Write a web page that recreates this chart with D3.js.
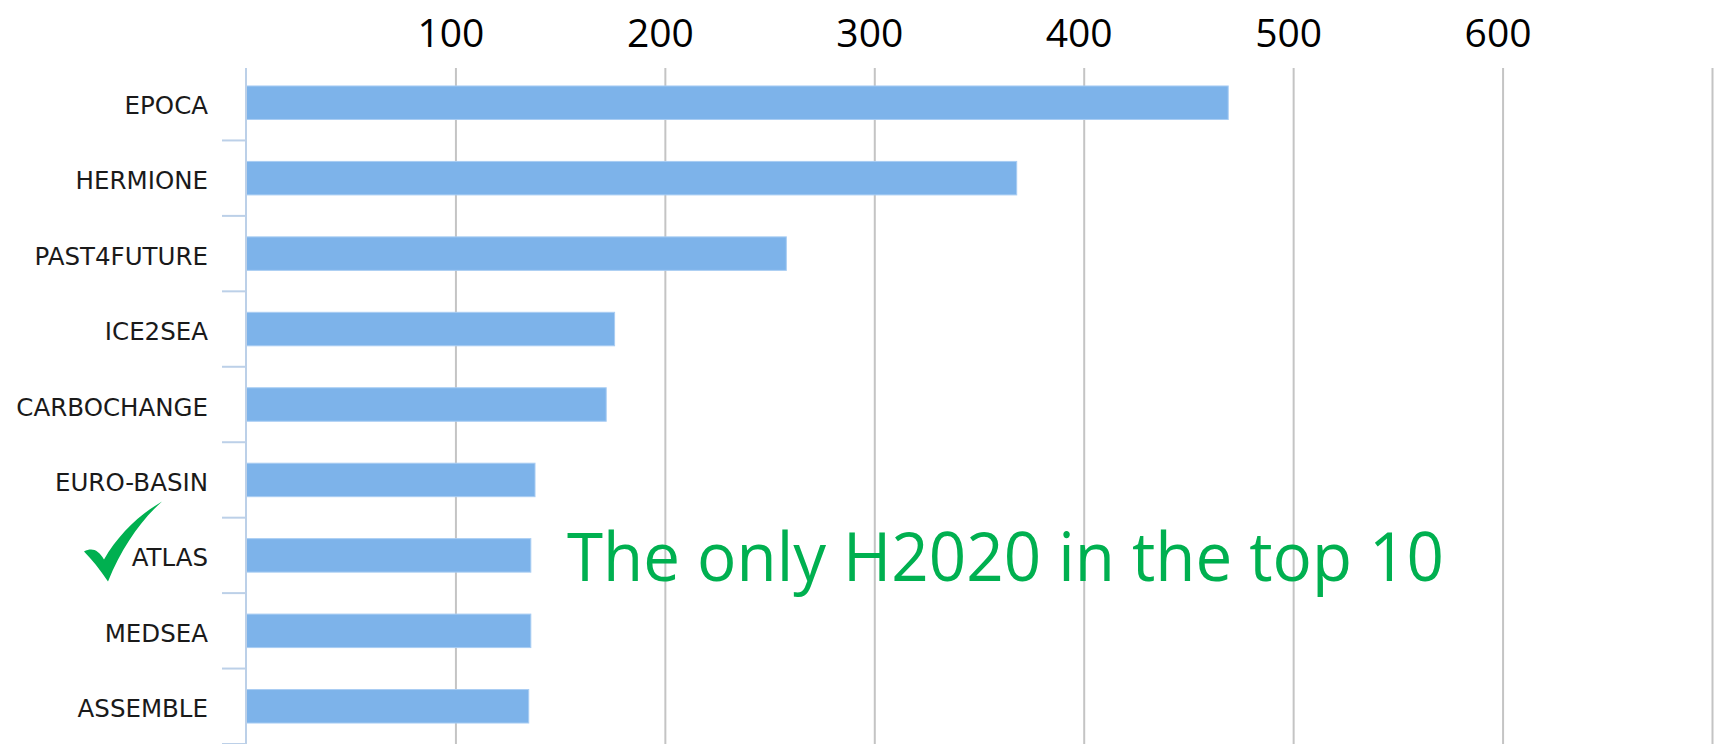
<!DOCTYPE html>
<meta charset="utf-8">
<style>
  body { margin: 0; background: #fff; }
  .xaxis text { font-family: "Open Sans", sans-serif; font-size: 39px; fill: #000; }
  .yaxis text { font-family: "DejaVu Sans", sans-serif; font-size: 24.5px; fill: #1a1a1a; }
  .note { font-family: "Open Sans", sans-serif; fill: #00B050; }
</style>
<body>
<script src="https://d3js.org/d3.v7.min.js"></script>
<div id="chart"></div>
<script>
// projects and counts
var projects = ["EPOCA", "HERMIONE", "PAST4FUTURE", "ICE2SEA", "CARBOCHANGE",
                "EURO-BASIN", "ATLAS", "MEDSEA", "ASSEMBLE"];
var counts = [469, 368, 258, 176, 172, 138, 136, 136, 135];
var xTicks = [100, 200, 300, 400, 500, 600, 700];
var highlight = "ATLAS";
var noteText = "The only H2020 in the top 10";

var width = 1726, height = 744;
var gridTop = 68;

var svg = d3.select("#chart").append("svg")
    .attr("width", width)
    .attr("height", height);

var x = d3.scaleLinear()
    .domain([0, 700])
    .range([246, 1712]);

var y = d3.scaleBand()
    .domain(projects)
    .range([65, 744])
    .paddingInner(0.556)
    .paddingOuter(0.278);

// gridlines + labels on top
var xAxis = svg.append("g")
    .attr("class", "xaxis")
    .attr("transform", "translate(0," + gridTop + ")")
    .call(d3.axisTop(x)
      .tickValues(xTicks)
      .tickSize(-(height - gridTop))
      .tickPadding(21)
      .tickFormat(function(d) { return d < 700 ? d : ""; }));
xAxis.select(".domain").remove();
xAxis.selectAll(".tick line")
    .attr("stroke", "#c4c4c4")
    .attr("stroke-width", 2);
xAxis.selectAll(".tick text").attr("dx", -5);

// bars
var data = projects.map(function(p, i) { return {name: p, value: counts[i]}; });
svg.append("g")
  .selectAll("rect")
    .data(data)
  .enter().append("rect")
    .attr("x", x(0))
    .attr("y", function(d) { return y(d.name); })
    .attr("width", function(d) { return x(d.value) - x(0); })
    .attr("height", y.bandwidth())
    .attr("fill", "#7DB3EA")
    .attr("stroke", "#a9cdf3")
    .attr("stroke-width", 1);

// category axis
var yAxis = svg.append("g")
    .attr("class", "yaxis")
    .attr("transform", "translate(" + x(0) + ",0)")
    .call(d3.axisLeft(y).tickSize(0).tickPadding(38));
yAxis.select(".domain").remove();
yAxis.selectAll(".tick text").attr("dy", "0.45em");

svg.append("line")
    .attr("x1", x(0)).attr("x2", x(0))
    .attr("y1", gridTop).attr("y2", height)
    .attr("stroke", "#bcd0e8")
    .attr("stroke-width", 2);

// ticks between categories
svg.append("g")
  .selectAll("line")
    .data(projects)
  .enter().append("line")
    .attr("x1", x(0) - 24).attr("x2", x(0))
    .attr("y1", function(d) { return y(d) - y.step() * y.paddingOuter() + y.step(); })
    .attr("y2", function(d) { return y(d) - y.step() * y.paddingOuter() + y.step(); })
    .attr("stroke", "#bcd0e8")
    .attr("stroke-width", 2);

// note
var atlasY = y(highlight) + y.bandwidth() / 2;
svg.append("text")
    .attr("class", "note")
    .attr("x", 567)
    .attr("y", atlasY + 26)
    .attr("font-size", 68)
    .attr("textLength", 877)
    .attr("lengthAdjust", "spacingAndGlyphs")
    .text(noteText);

// check mark before ATLAS
svg.append("path")
    .attr("transform", "translate(84," + (atlasY - 48) + ")")
    .attr("d", "M0,44 C8,40 14,42 20,52 C34,28 54,8 78,-6 C56,14 38,40 24,74 C16,62 8,52 0,44 Z")
    .attr("fill", "#00B050");
</script>
</body>
</html>
